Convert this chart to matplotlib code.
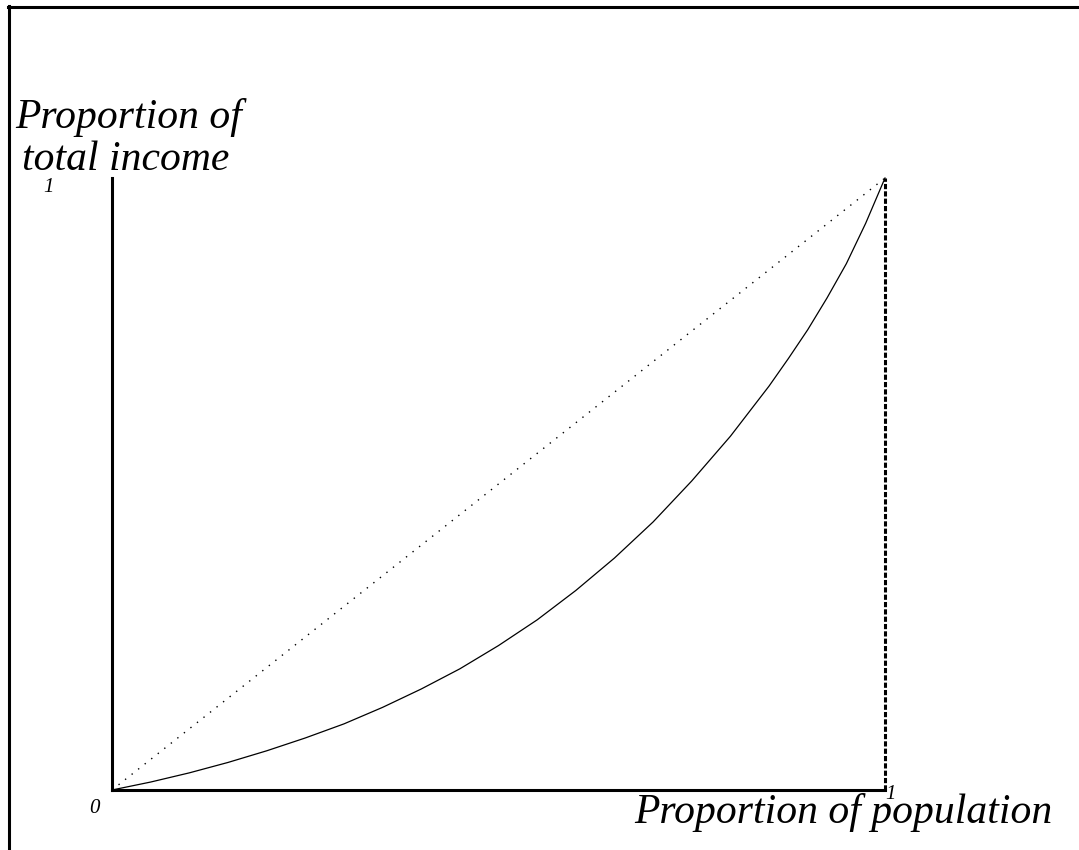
import numpy as np
import matplotlib.pyplot as plt
from matplotlib.lines import Line2D

# Lorenz curve
pop_share = [0.0, 0.05, 0.1, 0.15, 0.2, 0.25, 0.3, 0.35, 0.4, 0.45, 0.5,
             0.55, 0.6, 0.65, 0.7, 0.75, 0.8, 0.85, 0.875, 0.9, 0.925, 0.95, 0.975, 1.0]
income_share = [0.0, 0.013, 0.028, 0.045, 0.064, 0.085, 0.108, 0.135, 0.165, 0.198, 0.236,
                0.278, 0.326, 0.379, 0.438, 0.505, 0.578, 0.66, 0.705, 0.752, 0.804, 0.86, 0.926, 1.0]
equality = [0, 1]

W, H = 1079, 850
fig = plt.figure(figsize=(W / 100, H / 100), dpi=100)

# axes box in pixel terms: x 112..885, y 178..790
ax = fig.add_axes([112 / W, 1 - 790 / H, (885 - 112) / W, (790 - 178) / H])
ax.set_xlim(0, 1)
ax.set_ylim(0, 1)
ax.set_xticks([])
ax.set_yticks([])
for s in ["top", "right"]:
    ax.spines[s].set_visible(False)
for s in ["left", "bottom"]:
    ax.spines[s].set_linewidth(2.2)
ax.patch.set_alpha(0)

ax.plot(equality, equality, color="black", lw=1.0, linestyle=(0, (1, 5)), clip_on=False)
ax.plot(pop_share, income_share, color="black", lw=0.9, clip_on=False)
ax.plot([1, 1], [0, 1], color="black", lw=2.2, linestyle=(0, (1.7, 0.7)), clip_on=False)

# frame lines (top and left only)
fig.add_artist(Line2D([8 / W, 1], [1 - 7 / H, 1 - 7 / H], color="black", lw=2.2))
fig.add_artist(Line2D([9 / W, 9 / W], [0, 1 - 6 / H], color="black", lw=2.2))

font = dict(family="Liberation Serif", style="italic")


def ptext(x, y, s, size, **kw):
    fig.text(x / W, 1 - y / H, s, fontsize=size, va="baseline", ha="left", **font, **kw)


ptext(15, 128, "Proportion of", 30)
ptext(22, 170, "total income", 30)
ptext(634, 823, "Proportion of population", 30)
ptext(43, 192, "1", 15)
ptext(89, 813, "0", 15)
ptext(885, 799, "1", 15)

fig.savefig("out.png", dpi=100)
